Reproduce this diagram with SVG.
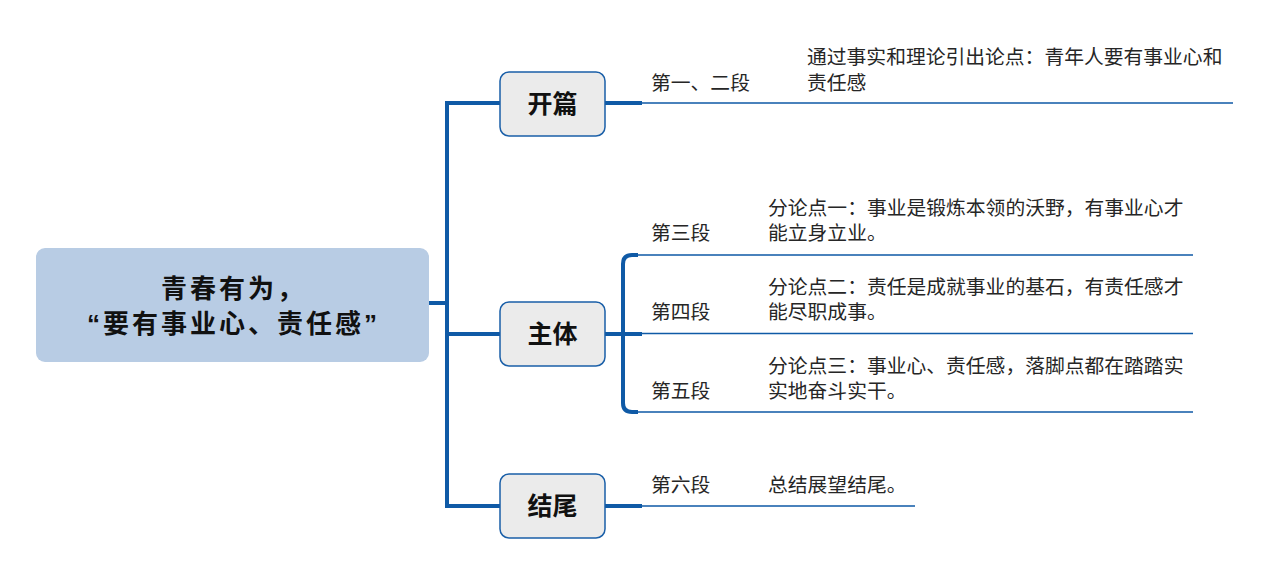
<svg xmlns="http://www.w3.org/2000/svg" width="1268" height="574" viewBox="0 0 1268 574">
<style>
.thick{fill:none;stroke:#0f5aa6;stroke-width:4;stroke-linejoin:miter}
.thin{fill:none;stroke:#0f5aa6;stroke-width:1.5}
.topic{fill:#ebebeb;stroke:#1a5fa8;stroke-width:1.5}
.tb{font-family:"Liberation Sans","Noto Sans CJK SC",sans-serif;font-weight:bold;fill:#111;text-anchor:middle;dominant-baseline:central}
.t{font-family:"Liberation Sans","Noto Sans CJK SC",sans-serif;font-size:19.8px;fill:#262626;dominant-baseline:central}
</style>
<rect width="1268" height="574" fill="#ffffff"/>
<g id="connectors">
<path class="thick" d="M429,303 H447 M500,103 H447 V506 H500 M447,334 H500"/>
<path class="thick" d="M605,103 H642 M605,334 H642 M605,506 H642"/>
<path class="thick" d="M638,255 H632 Q623,255 623,264 V403 Q623,412 632,412 H638"/>
<path class="thin" d="M642,103 H1233 M636,255 H1193 M642,333.5 H1193 M636,412 H1193 M642,506 H915"/>
</g>
<g id="root">
<rect x="36" y="248" width="393" height="114" rx="9" fill="#b8cce4"/>
<text class="tb" x="233.5" y="289" font-size="26" letter-spacing="3">青春有为，</text>
<text class="tb" x="233.5" y="324" font-size="26" letter-spacing="3">“要有事业心、责任感”</text>
</g>
<g id="node-kaipian">
<rect class="topic" x="500" y="72" width="105" height="64" rx="9"/>
<text class="tb" x="552.5" y="104" font-size="25">开篇</text>
</g>
<g id="node-zhuti">
<rect class="topic" x="500" y="302" width="105" height="64" rx="9"/>
<text class="tb" x="552.5" y="334" font-size="25">主体</text>
</g>
<g id="node-jiewei">
<rect class="topic" x="500" y="474" width="105" height="64" rx="9"/>
<text class="tb" x="552.5" y="506" font-size="25">结尾</text>
</g>
<g id="leaf-1">
<text class="t" x="651" y="83">第一、二段</text>
<text class="t" x="807" y="57">通过事实和理论引出论点：青年人要有事业心和</text>
<text class="t" x="807" y="83">责任感</text>
</g>
<g id="leaf-3">
<text class="t" x="651" y="233">第三段</text>
<text class="t" x="768" y="208">分论点一：事业是锻炼本领的沃野，有事业心才</text>
<text class="t" x="768" y="233">能立身立业。</text>
</g>
<g id="leaf-4">
<text class="t" x="651" y="312">第四段</text>
<text class="t" x="768" y="287">分论点二：责任是成就事业的基石，有责任感才</text>
<text class="t" x="768" y="312">能尽职成事。</text>
</g>
<g id="leaf-5">
<text class="t" x="651" y="391">第五段</text>
<text class="t" x="768" y="366">分论点三：事业心、责任感，落脚点都在踏踏实</text>
<text class="t" x="768" y="391">实地奋斗实干。</text>
</g>
<g id="leaf-6">
<text class="t" x="651" y="485">第六段</text>
<text class="t" x="768" y="485">总结展望结尾。</text>
</g>
</svg>
